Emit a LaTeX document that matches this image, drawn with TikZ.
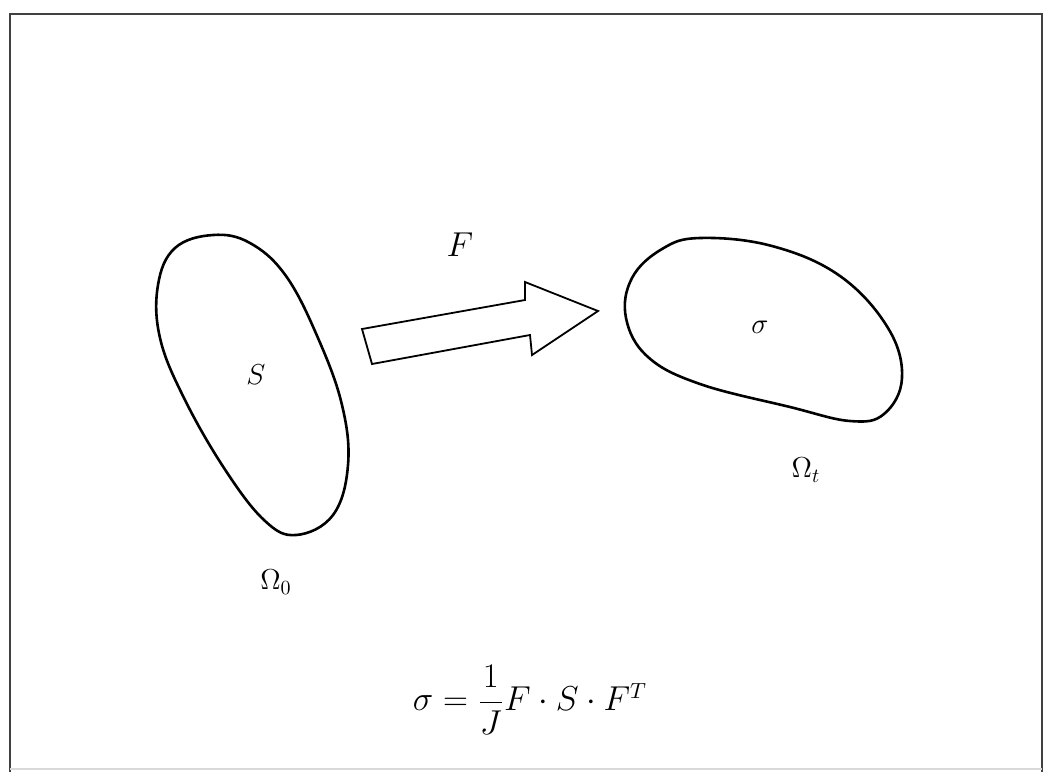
\documentclass[tikz,border=0pt]{standalone}
\usepackage{amsmath,bm}
\begin{document}
\begin{tikzpicture}[x=0.5pt,y=-0.5pt,
  blob/.style={line width=1.3pt, line join=round},
  bigarrow/.style={line width=0.9pt, line join=miter},
  lbl/.style={inner sep=0pt, font=\fontsize{14}{17}\selectfont},
  frameline/.style={line width=1.4pt, draw=black!75}]
\useasboundingbox (0,0) rectangle (1043,772);
% frame
\draw[frameline] (10,772) -- (10,14) -- (1042,14) -- (1042,772);
\draw[line width=0.8pt, draw=black!15] (10,769) -- (1042,769);
% reference body
\draw[blob] plot[smooth cycle, tension=0.65] coordinates {
  (213,235) (250,243) (286,276) (318,338) (342,405) (348,465)
  (333,515) (296,535) (264,520) (224,468) (184,398) (160,338)
  (158,285) (175,248)};
% current body
\draw[blob] plot[smooth cycle, tension=0.65] coordinates {
  (700,238) (772,246) (840,276) (888,328) (902,378) (884,414)
  (850,421) (790,407) (700,384) (648,357) (626,318) (632,278) (662,249)};
% broad arrow
\coordinate (a1) at (362,329);
\coordinate (a2) at (525,300);
\coordinate (a3) at (525,282);
\coordinate (tip) at (598,311);
\coordinate (a5) at (532,355);
\coordinate (a6) at (530,335);
\coordinate (a7) at (372,364);
\draw[bigarrow] (a1) -- (a2) -- (a3) -- (tip) -- (a5) -- (a6) -- (a7) -- cycle;
% labels
\node[lbl, font=\fontsize{16}{19}\selectfont] (F) at (460,245) {$F$};
\node[lbl] (S) at (256,375) {$S$};
\node[lbl] (sig) at (760,327) {$\sigma$};
\node[lbl] (O0) at (276,582) {$\Omega_0$};
\node[lbl] (Ot) at (806,470) {$\Omega_t$};
\node[lbl, font=\fontsize{16}{19}\selectfont] (eq) at (530,700) {$\sigma=\dfrac{1}{J}F\cdot S\cdot F^T$};
\end{tikzpicture}
\end{document}
